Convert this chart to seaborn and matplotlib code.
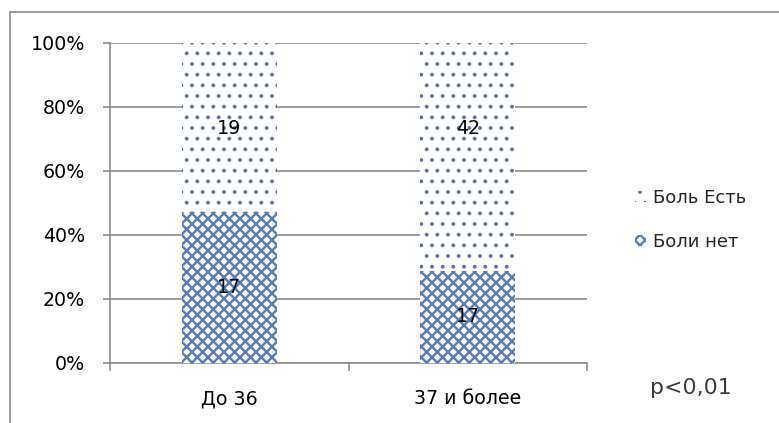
import numpy as np
import pandas as pd
import matplotlib
matplotlib.use("Agg")
import matplotlib.pyplot as plt
from matplotlib.lines import Line2D
from matplotlib.patches import Patch
import seaborn as sns

# Counts per age group
categories = ["До 36", "37 и более"]
no_pain = [17, 17]      # "Боли нет"
pain = [19, 42]         # "Боль Есть"
series_labels = ["Боль Есть", "Боли нет"]
y_ticks = [0, 20, 40, 60, 80, 100]
y_tick_labels = ["0%", "20%", "40%", "60%", "80%", "100%"]
note_text = "p<0,01"

DPI = 64
W, H = 779, 423
PX = 72.0 / DPI          # points per pixel

DOT_COLOR = "#5374aa"
CROSS_COLOR = "#5a7bb0"
GRID_COLOR = "#898989"
DOT_LW = 1.7 * PX
CROSS_LW = 2.4 * PX

sns.set_theme(style="white")
plt.rcParams["font.family"] = ["DejaVu Sans"]

no_arr = np.array(no_pain, dtype=float)
pain_arr = np.array(pain, dtype=float)
pct_no = no_arr / (no_arr + pain_arr) * 100.0

df = pd.DataFrame({
    "group": categories,
    "total": [100.0] * len(categories),
    "no_pain_pct": pct_no,
})

fig = plt.figure(figsize=(W / DPI, H / DPI), dpi=DPI)
fig.patch.set_facecolor("white")
ax = fig.add_axes([110 / W, 1 - 363 / H, (587 - 110) / W, 320 / H])


def style_dots(p):
    p.set_facecolor("white")
    p.set_edgecolor(DOT_COLOR)
    p.set_linewidth(0)
    p.set_hatch(".")
    if hasattr(p, "set_hatch_linewidth"):
        p.set_hatch_linewidth(DOT_LW)


def style_cross(p):
    p.set_facecolor("white")
    p.set_edgecolor(CROSS_COLOR)
    p.set_linewidth(0)
    p.set_hatch("xx")
    if hasattr(p, "set_hatch_linewidth"):
        p.set_hatch_linewidth(CROSS_LW)


# Upper (dotted) segment: full-height bar underneath
with plt.rc_context({"hatch.linewidth": DOT_LW}):
    sns.barplot(data=df, x="group", y="total", color="white", width=0.40,
                errorbar=None, ax=ax, saturation=1, zorder=2)
n_top = len(ax.patches)
for p in ax.patches[:n_top]:
    style_dots(p)

# Lower (cross-hatched) segment
with plt.rc_context({"hatch.linewidth": CROSS_LW}):
    sns.barplot(data=df, x="group", y="no_pain_pct", color="white", width=0.40,
                errorbar=None, ax=ax, saturation=1, zorder=3)
for p in ax.patches[n_top:]:
    style_cross(p)

# Value labels
for i in range(len(categories)):
    ax.text(i, pct_no[i] / 2, str(no_pain[i]), ha="center", va="center",
            fontsize=19 * PX, color="black", zorder=5)
    ax.text(i, 73.3, str(pain[i]), ha="center", va="center",
            fontsize=19 * PX, color="black", zorder=5)

ax.set_xlim(-0.5, len(categories) - 0.5)
ax.set_ylim(0, 100)
ax.set_xlabel("")
ax.set_ylabel("")

ax.set_yticks(y_ticks)
ax.set_yticklabels(y_tick_labels)
ax.yaxis.grid(True, color=GRID_COLOR, linewidth=1.6 * PX, zorder=0)
ax.set_axisbelow(True)

ax.set_xticks(range(len(categories)))
ax.set_xticklabels(categories)
ax.set_xticks(np.arange(-0.5, len(categories), 1.0), minor=True)

ax.tick_params(axis="y", which="major", left=True, length=7 * PX,
               width=1.6 * PX, color=GRID_COLOR, pad=18 * PX,
               labelsize=19 * PX, labelcolor="black")
ax.tick_params(axis="x", which="major", bottom=False, length=0,
               pad=26 * PX, labelsize=19 * PX, labelcolor="black")
ax.tick_params(axis="x", which="minor", bottom=True, length=8 * PX,
               width=1.6 * PX, color=GRID_COLOR)

for side in ["top", "right"]:
    ax.spines[side].set_visible(False)
for side in ["left", "bottom"]:
    ax.spines[side].set_color(GRID_COLOR)
    ax.spines[side].set_linewidth(1.6 * PX)

# Legend
handles = [Patch(), Patch()]
style_dots(handles[0])
style_cross(handles[1])
leg = fig.legend(handles, series_labels, loc="center left",
                 bbox_to_anchor=(626 / W, 1 - 220 / H), frameon=False,
                 fontsize=18 * PX, handlelength=0.6, handleheight=0.6,
                 handletextpad=0.4, labelspacing=1.45, borderpad=0)
for lp, fn in zip(leg.get_patches(), [style_dots, style_cross]):
    fn(lp)

fig.text(650 / W, 1 - 388 / H, note_text, ha="left", va="center",
         fontsize=22 * PX, color="#3c3c3c")

# Outer frame (left and top edges)
fig.add_artist(Line2D([10 / W, 10 / W], [0, 1 - 12 / H], transform=fig.transFigure,
                      color=GRID_COLOR, linewidth=1.6 * PX))
fig.add_artist(Line2D([10 / W, 1], [1 - 12 / H, 1 - 12 / H], transform=fig.transFigure,
                      color=GRID_COLOR, linewidth=1.6 * PX))

fig.savefig("out.png", dpi=DPI, facecolor="white")
